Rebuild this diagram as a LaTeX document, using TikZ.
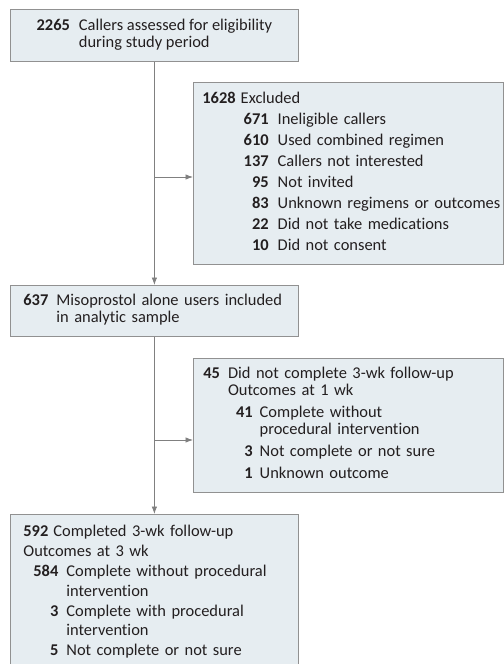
\documentclass[tikz,border=0pt]{standalone}
\usepackage{fontspec}
\setmainfont{Carlito}[Ligatures=NoCommon]
\usepackage{array}
\usetikzlibrary{arrows.meta}
\definecolor{boxfill}{RGB}{230,237,241}
\definecolor{boxline}{RGB}{145,145,145}
\definecolor{flowline}{RGB}{128,128,128}
\definecolor{inktext}{RGB}{35,31,32}
\tikzstyle{block} = [rectangle, draw=boxline, fill=boxfill, line width=0.8bp, anchor=north west, text=inktext, inner ysep=0pt, align=left, font=\fontsize{16.5}{17}\selectfont]
\tikzstyle{flow} = [draw=flowline, line width=0.8bp]
\begin{document}
\begin{tikzpicture}[x=1bp, y=-1bp, >={Latex[length=7.5bp,width=5.5bp]}]
\clip (0,0) rectangle (504,664);
\node [block, minimum width=288bp, minimum height=52bp] (start) at (10,9) {\begin{tabular}{@{}r@{\hspace{9bp}}l@{}}
\textbf{2265} & Callers assessed for eligibility\\
 & during study period
\end{tabular}};
\node [block, minimum width=310bp, minimum height=182bp, text width=292bp, inner xsep=9bp] (excl) at (193,82) {\noindent\begin{tabular}{@{}r@{\hspace{5bp}}>{\hspace{3bp}}r@{\hspace{9bp}}l@{}}
\textbf{1628} & \multicolumn{2}{@{}l@{}}{Excluded}\\[4bp]
 & \textbf{671} & Ineligible callers\\[4bp]
 & \textbf{610} & Used combined regimen\\[4bp]
 & \textbf{137} & Callers not interested\\[4bp]
 & \textbf{95} & Not invited\\[4bp]
 & \textbf{83} & Unknown regimens or outcomes\\[4bp]
 & \textbf{22} & Did not take medications\\[4bp]
 & \textbf{10} & Did not consent
\end{tabular}};
\node [block, minimum width=288bp, minimum height=51bp, text width=262bp, inner xsep=13bp] (incl) at (10,285) {\noindent\begin{tabular}{@{}r@{\hspace{8bp}}l@{}}
\textbf{637} & Misoprostol alone users included\\
 & in analytic sample
\end{tabular}};
\node [block, minimum width=310bp, minimum height=134bp, text width=290bp, inner xsep=10bp] (lost) at (193,358) {\noindent\begin{tabular}{@{}r@{\hspace{8bp}}>{\hspace{8bp}}r@{\hspace{7bp}}l@{}}
\textbf{45} & \multicolumn{2}{@{}l@{}}{Did not complete 3-wk follow-up}\\
 & \multicolumn{2}{@{}l@{}}{Outcomes at 1 wk}\\[5bp]
 & \textbf{41} & Complete without\\
 & & procedural intervention\\[5bp]
 & \textbf{3} & Not complete or not sure\\[5bp]
 & \textbf{1} & Unknown outcome
\end{tabular}};
\node [block, minimum width=288bp, text width=262bp, inner xsep=13bp, inner ysep=10bp] (done) at (10,514) {\noindent\begin{tabular}{@{}r@{\hspace{5bp}}l@{}}
\textbf{592} & Completed 3-wk follow-up\\[3bp]
\multicolumn{2}{@{}l@{}}{Outcomes at 3 wk}\\[3bp]
\multicolumn{2}{@{}l@{}}{\hspace{10bp}\begin{tabular}[t]{@{}r@{\hspace{8bp}}l@{}}
\textbf{584} & Complete without procedural\\[3bp]
 & intervention\\[3bp]
\textbf{3} & Complete with procedural\\[3bp]
 & intervention\\[3bp]
\textbf{5} & Not complete or not sure
\end{tabular}}
\end{tabular}};

\coordinate (side1) at (154,177);
\coordinate (side2) at (154,440);
\draw [flow,->] (start) -- (incl);
\draw [flow,->] (incl) -- (done);
\draw [flow,->] (side1) -- (side1 -| excl.west);
\draw [flow,->] (side2) -- (side2 -| lost.west);
\end{tikzpicture}
\end{document}
